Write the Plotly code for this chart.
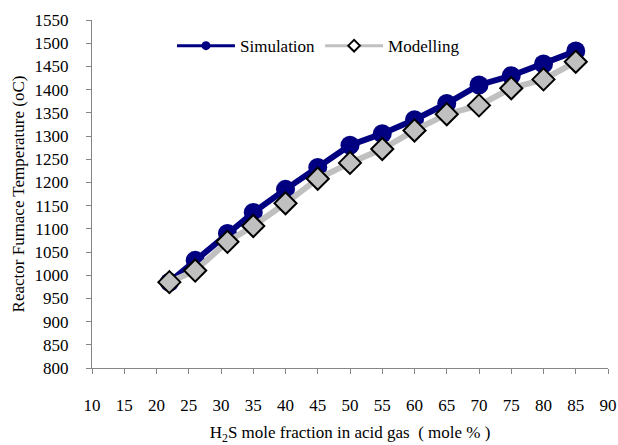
import plotly.graph_objects as go

x_vals = [22, 26, 31, 35, 40, 45, 50, 55, 60, 65, 70, 75, 80, 85]
simulation = [985, 1032, 1090, 1135, 1185, 1232, 1280, 1305, 1335, 1370, 1410, 1430, 1455, 1483]
modelling = [985, 1010, 1072, 1106, 1155, 1208, 1242, 1272, 1312, 1347, 1366, 1403, 1422, 1460]
x_ticks = list(range(10, 91, 5))
y_ticks = list(range(800, 1551, 50))

NAVY = "#000080"
GRAY = "#C0C0C0"
FONT = "Liberation Serif, Times New Roman, serif"

fig = go.Figure()
fig.add_trace(go.Scatter(x=x_vals, y=simulation, mode="lines+markers", showlegend=False,
                         line=dict(color=NAVY, width=6),
                         marker=dict(symbol="circle", size=19, color=NAVY)))
fig.add_trace(go.Scatter(x=x_vals, y=modelling, mode="lines+markers", showlegend=False,
                         line=dict(color=GRAY, width=6),
                         marker=dict(symbol="diamond", size=17, color=GRAY,
                                     line=dict(color="black", width=2))))
# legend entries
fig.add_trace(go.Scatter(x=[None], y=[None], mode="lines+markers", name="Simulation",
                         line=dict(color=NAVY, width=3),
                         marker=dict(symbol="circle", size=9, color=NAVY)))
fig.add_trace(go.Scatter(x=[None], y=[None], mode="lines+markers", name="Modelling",
                         line=dict(color=GRAY, width=3),
                         marker=dict(symbol="diamond", size=9, color="white",
                                     line=dict(color="black", width=2))))

fig.update_layout(
    width=618, height=445,
    margin=dict(l=92, r=10, t=20, b=77),
    paper_bgcolor="white", plot_bgcolor="white",
    font=dict(family=FONT, size=17, color="black"),
    legend=dict(orientation="h", x=0.155, y=0.925, xanchor="left", yanchor="middle",
                font=dict(family=FONT, size=17), itemwidth=58, bgcolor="rgba(0,0,0,0)"),
    xaxis=dict(range=[10, 90], tickvals=x_ticks, showgrid=False, zeroline=False,
               showline=True, linecolor="#868686", linewidth=1, automargin=False,
               ticks="outside", ticklen=5, tickcolor="#868686",
               ticklabelstandoff=17,
               title=dict(text="H<sub>2</sub>S mole fraction in acid gas  ( mole % )",
                          font=dict(family=FONT, size=17), standoff=14)),
    yaxis=dict(range=[800, 1550], tickvals=y_ticks, showgrid=False, zeroline=False,
               showline=True, linecolor="#868686", linewidth=1, automargin=False,
               ticks="outside", ticklen=5, tickcolor="#868686",
               ticklabelstandoff=14,
               title=dict(text="Reactor Furnace Temperature (oC)",
                          font=dict(family=FONT, size=17), standoff=5)),
)

fig.write_html("out.html")
